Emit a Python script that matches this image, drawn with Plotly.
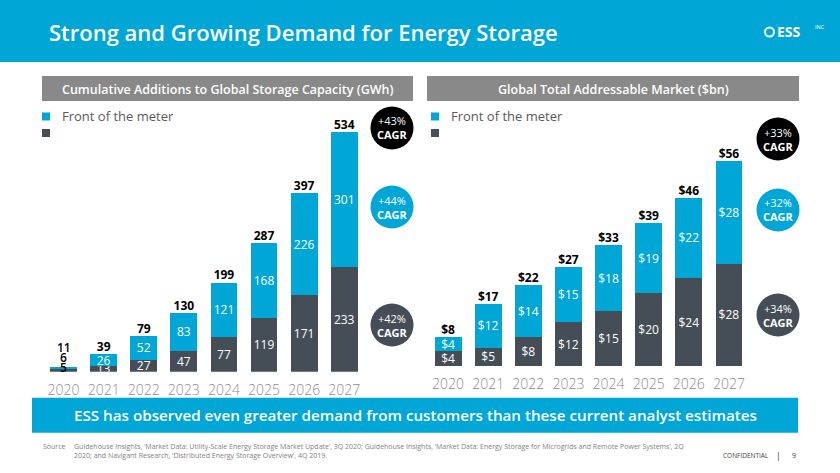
import plotly.graph_objects as go

W, H = 840, 473

# chart data
years = ['2020', '2021', '2022', '2023', '2024', '2025', '2026', '2027']
gwh_ftm = [6, 26, 52, 83, 121, 168, 226, 301]
gwh_btm = [5, 13, 27, 47, 77, 119, 171, 233]
gwh_total = [11, 39, 79, 130, 199, 287, 397, 534]
gwh_cagr = ['+43%', '+44%', '+42%']   # total, front of meter, behind
tam_ftm = [4, 12, 14, 15, 18, 19, 22, 28]
tam_btm = [4, 5, 8, 12, 15, 20, 24, 28]
tam_total = [8, 17, 22, 27, 33, 39, 46, 56]
tam_cagr = ['+33%', '+32%', '+34%']

BLUE = '#00A6D6'
DARK = '#454E56'
GREY_BOX = '#898989'
FONT = 'Open Sans'


def px(x):
    return x / W


def py(y):
    return 1 - y / H


def note(x, y, text, size, color='white', weight=400, xanchor='center', **kw):
    # paper-positioned text, pixel coords from top-left
    fig.add_annotation(x=px(x), y=py(y), xref='paper', yref='paper', showarrow=False,
                       xanchor=xanchor, yanchor='middle', text=text,
                       font=dict(color=color, size=size, family=FONT, weight=weight), **kw)


fig = go.Figure()

seg_font = dict(color='white', size=12, family=FONT)

# left panel: cumulative additions (GWh)
fig.add_trace(go.Bar(
    x=years, y=gwh_btm, marker_color=DARK, marker_line_width=0,
    text=[''] + [str(v) for v in gwh_btm[1:]],
    textposition='inside', insidetextanchor='middle', constraintext='none', textangle=0,
    textfont=seg_font, xaxis='x', yaxis='y', showlegend=False, hoverinfo='skip'))
fig.add_trace(go.Bar(
    x=years, y=gwh_ftm, marker_color=BLUE, marker_line_width=0,
    text=[''] + [str(v) for v in gwh_ftm[1:]],
    textposition='inside', insidetextanchor='middle', constraintext='none', textangle=0,
    textfont=seg_font, xaxis='x', yaxis='y', showlegend=False, hoverinfo='skip'))
fig.add_trace(go.Scatter(
    x=years[1:], y=gwh_total[1:], mode='text', text=[str(v) for v in gwh_total[1:]],
    textposition='top center', textfont=dict(color='black', size=12, family=FONT, weight=700),
    xaxis='x', yaxis='y', showlegend=False, hoverinfo='skip'))

# tiny 2020 bar: its three labels sit stacked above it
for val, shift in [(gwh_total[0], 19), (gwh_ftm[0], 9), (gwh_btm[0], -1)]:
    fig.add_annotation(x=0, y=gwh_total[0], xref='x', yref='y', text=str(val),
                       showarrow=False, xanchor='center', yanchor='middle', yshift=shift,
                       font=dict(color='black', size=12, family=FONT, weight=600))

# right panel: total addressable market ($bn)
fig.add_trace(go.Bar(
    x=years, y=tam_btm, marker_color=DARK, marker_line_width=0,
    text=['$%d' % v for v in tam_btm],
    textposition='inside', insidetextanchor='middle', constraintext='none', textangle=0,
    textfont=seg_font, xaxis='x2', yaxis='y2', showlegend=False, hoverinfo='skip'))
fig.add_trace(go.Bar(
    x=years, y=tam_ftm, marker_color=BLUE, marker_line_width=0,
    text=['$%d' % v for v in tam_ftm],
    textposition='inside', insidetextanchor='middle', constraintext='none', textangle=0,
    textfont=seg_font, xaxis='x2', yaxis='y2', showlegend=False, hoverinfo='skip'))
fig.add_trace(go.Scatter(
    x=years, y=tam_total, mode='text', text=['$%d' % v for v in tam_total],
    textposition='top center', textfont=dict(color='black', size=12, family=FONT, weight=700),
    xaxis='x2', yaxis='y2', showlegend=False, hoverinfo='skip'))

tick_font = dict(size=14, color='#8c8c8c', family=FONT, weight=300)
common_x = dict(type='category', range=[-0.5, 7.5], showgrid=False, zeroline=False,
                showline=False, ticks='', tickfont=tick_font, ticklabelstandoff=8,
                fixedrange=True)
common_y = dict(showgrid=False, zeroline=False, showline=False, showticklabels=False,
                fixedrange=True)

fig.update_layout(
    width=W, height=H,
    margin=dict(l=0, r=0, t=0, b=0),
    paper_bgcolor='white', plot_bgcolor='rgba(0,0,0,0)',
    barmode='stack', bargap=0.33,
    font=dict(family=FONT),
    xaxis=dict(domain=[px(43.5), px(364.3)], anchor='y', **common_x),
    yaxis=dict(domain=[py(371.7), py(110)], range=[0, (371.7 - 110) / 0.449], anchor='x', **common_y),
    xaxis2=dict(domain=[px(428), px(749)], anchor='y2', **common_x),
    yaxis2=dict(domain=[py(366), py(110)], range=[0, (366 - 110) / 3.66], anchor='x2', **common_y),
)

shapes = []
# header band
shapes.append(dict(type='rect', xref='paper', yref='paper', x0=0, x1=1, y0=py(62), y1=1,
                   fillcolor=BLUE, line_width=0, layer='below'))
# panel header boxes
for x0, x1 in [(42, 413), (427, 799)]:
    shapes.append(dict(type='rect', xref='paper', yref='paper', x0=px(x0), x1=px(x1),
                       y0=py(101), y1=py(76), fillcolor=GREY_BOX, line_width=0, layer='below'))
# bottom message band
shapes.append(dict(type='rect', xref='paper', yref='paper', x0=px(32), x1=px(798),
                   y0=py(432.7), y1=py(397.7), fillcolor=BLUE, line_width=0, layer='below'))
# legend squares
for lx in [42, 431]:
    shapes.append(dict(type='rect', xref='paper', yref='paper', x0=px(lx), x1=px(lx + 8),
                       y0=py(120.5), y1=py(112.5), fillcolor=BLUE, line_width=0))
    shapes.append(dict(type='rect', xref='paper', yref='paper', x0=px(lx), x1=px(lx + 8),
                       y0=py(137), y1=py(129), fillcolor=DARK, line_width=0))

# CAGR bubbles
bubbles = [(392, [128, 207, 325], gwh_cagr), (778, [139, 210, 315], tam_cagr)]
for cx, cys, labels in bubbles:
    for cy, lab, col in zip(cys, labels, ['black', BLUE, DARK]):
        shapes.append(dict(type='circle', xref='paper', yref='paper',
                           x0=px(cx - 21.5), x1=px(cx + 21.5), y0=py(cy + 21.5), y1=py(cy - 21.5),
                           fillcolor=col, line_width=0))
        note(cx, cy, lab + '<br><b>CAGR</b>', 11)

# logo mark
shapes.append(dict(type='circle', xref='paper', yref='paper', x0=px(765), x1=px(774),
                   y0=py(36.5), y1=py(27.5), line=dict(color='white', width=2)))
fig.update_layout(shapes=shapes)

# titles and text
note(47, 32, 'Strong and Growing Demand for Energy Storage', 22, weight=600, xanchor='left')
note(775, 32, '<b>ESS</b>', 14, xanchor='left')
note(813, 27, 'INC', 5.5, xanchor='left')
note(227.5, 89, 'Cumulative Additions to Global Storage Capacity (GWh)', 12.5, weight=600)
note(613, 89, 'Global Total Addressable Market ($bn)', 12.5, weight=600)
for tx in [60, 449]:
    note(tx, 116, 'Front of the meter', 13, color='#595959', xanchor='left')
note(415, 415, 'ESS has observed even greater demand from customers than these current analyst estimates',
     15.2, weight=600)
note(41, 446.7, 'Source', 7, color='#7f7f7f', xanchor='left')
note(72, 451.3,
     'Guidehouse Insights, ‘Market Data: Utility-Scale Energy Storage Market Update’, 3Q 2020; '
     'Guidehouse Insights, ‘Market Data: Energy Storage for Microgrids and Remote Power Systems’, 2Q'
     '<br>2020; and Navigant Research, ‘Distributed Energy Storage Overview’, 4Q 2019.',
     7, color='#7f7f7f', xanchor='left', align='left')
note(771, 455, 'CONFIDENTIAL', 6.5, color='#404040', xanchor='right')
note(778, 455, '|', 9, color='#404040')
note(794, 455, '9', 7, color='#404040')

# drop the default page margin so the figure sits at the window's corner
fig.write_html('out.html', config={'displayModeBar': False},
               post_script="document.body.style.margin='0';")
